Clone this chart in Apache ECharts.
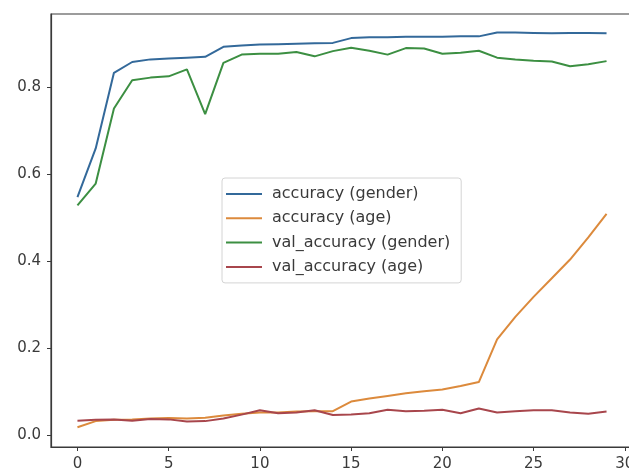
<!DOCTYPE html>
<html>
<head>
<meta charset="utf-8">
<script src="https://cdn.jsdelivr.net/npm/echarts@6/dist/echarts.min.js"></script>
<style>
  html, body { margin: 0; padding: 0; background: #fff; }
  #chart { width: 629px; height: 470px; }
</style>
</head>
<body>
<div id="chart"></div>
<script>
// Training history per epoch
const epochs = Array.from({ length: 30 }, (_, i) => i);

const accuracyGender = [0.548, 0.660, 0.834, 0.859, 0.865, 0.867, 0.869, 0.871, 0.894, 0.897,
  0.899, 0.900, 0.901, 0.902, 0.903, 0.914, 0.916, 0.916, 0.917, 0.917,
  0.917, 0.918, 0.918, 0.927, 0.927, 0.926, 0.925, 0.926, 0.926, 0.925];

const accuracyAge = [0.018, 0.032, 0.035, 0.036, 0.038, 0.039, 0.038, 0.040, 0.045, 0.049,
  0.052, 0.052, 0.054, 0.055, 0.055, 0.077, 0.084, 0.090, 0.096, 0.101,
  0.105, 0.113, 0.122, 0.220, 0.272, 0.318, 0.361, 0.404, 0.455, 0.509];

const valAccuracyGender = [0.529, 0.579, 0.752, 0.817, 0.823, 0.826, 0.842, 0.739, 0.857, 0.876,
  0.878, 0.878, 0.882, 0.872, 0.884, 0.892, 0.885, 0.876, 0.891, 0.890,
  0.878, 0.880, 0.885, 0.869, 0.865, 0.862, 0.860, 0.849, 0.854, 0.861];

const valAccuracyAge = [0.033, 0.035, 0.036, 0.033, 0.037, 0.036, 0.031, 0.032, 0.038, 0.047,
  0.057, 0.050, 0.052, 0.057, 0.046, 0.047, 0.050, 0.058, 0.055, 0.056,
  0.058, 0.050, 0.061, 0.052, 0.055, 0.057, 0.057, 0.052, 0.049, 0.054];

const xTicks = [0, 5, 10, 15, 20, 25, 30];
const yTicks = [0.0, 0.2, 0.4, 0.6, 0.8];

const seriesDefs = [
  { name: 'accuracy (gender)', values: accuracyGender, color: '#33699a' },
  { name: 'accuracy (age)', values: accuracyAge, color: '#dc8a3c' },
  { name: 'val_accuracy (gender)', values: valAccuracyGender, color: '#3c8f42' },
  { name: 'val_accuracy (age)', values: valAccuracyAge, color: '#a8464c' }
];

const font = 'DejaVu Sans';
const ink = '#3a3a3a';

const chart = echarts.init(document.getElementById('chart'), null, { renderer: 'canvas' });

chart.setOption({
  animation: false,
  backgroundColor: '#fff',
  grid: {
    left: 51, top: 14, width: 582, height: 433,
    outerBoundsMode: 'none',
    containLabel: false,
    show: true, borderColor: ink, borderWidth: 1.2, backgroundColor: 'transparent'
  },
  xAxis: {
    type: 'value',
    min: -1.45, max: 30.45,
    axisLine: { show: true, onZero: false, lineStyle: { color: ink, width: 1.2 } },
    axisTick: { show: true, length: 4, customValues: xTicks, lineStyle: { color: ink } },
    axisLabel: {
      customValues: xTicks, margin: 10,
      color: ink, fontFamily: font, fontSize: 15,
      formatter: v => String(v)
    },
    splitLine: { show: false }
  },
  yAxis: {
    type: 'value',
    min: -0.0276, max: 0.9695,
    axisLine: { show: true, onZero: false, lineStyle: { color: ink, width: 1.2 } },
    axisTick: { show: true, length: 4, customValues: yTicks, lineStyle: { color: ink } },
    axisLabel: {
      customValues: yTicks, margin: 10,
      color: ink, fontFamily: font, fontSize: 15,
      formatter: v => v.toFixed(1)
    },
    splitLine: { show: false }
  },
  legend: {
    orient: 'vertical',
    left: 222, top: 178,
    padding: [8, 11, 8, 4],
    itemWidth: 36, itemHeight: 14, itemGap: 8.3,
    backgroundColor: 'rgba(255,255,255,0.8)',
    borderColor: '#d4d4d4', borderWidth: 1, borderRadius: 3,
    icon: 'path://M0,6 L36,6 L36,8 L0,8 Z',
    textStyle: { color: ink, fontFamily: font, fontSize: 16, padding: [0, 0, 0, 5] },
    data: seriesDefs.map(s => s.name)
  },
  series: seriesDefs.map(s => ({
    name: s.name,
    type: 'line',
    data: epochs.map((e, i) => [e, s.values[i]]),
    showSymbol: false,
    symbol: 'none',
    color: s.color,
    lineStyle: { color: s.color, width: 2 },
    emphasis: { disabled: true }
  }))
});
</script>
</body>
</html>
